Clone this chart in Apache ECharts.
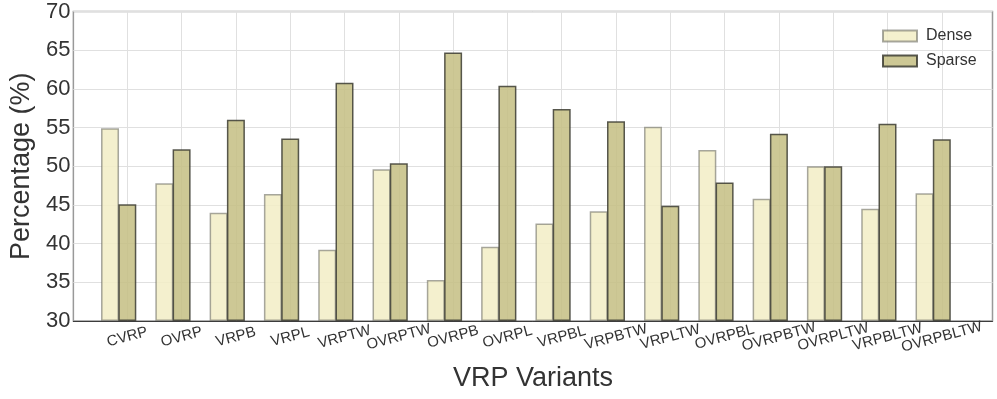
<!DOCTYPE html>
<html>
<head>
<meta charset="utf-8">
<script src="https://cdn.jsdelivr.net/npm/echarts@6/dist/echarts.min.js"></script>
<style>
  html, body { margin: 0; padding: 0; background: #fff; }
  #main { width: 997px; height: 399px; }
</style>
</head>
<body>
<div id="main"></div>
<script>
// VRP 变体数据
var variants = ['CVRP', 'OVRP', 'VRPB', 'VRPL', 'VRPTW', 'OVRPTW', 'OVRPB', 'OVRPL',
    'VRPBL', 'VRPBTW', 'VRPLTW', 'OVRPBL', 'OVRPBTW', 'OVRPLTW', 'VRPBLTW', 'OVRPBLTW'];
var dense = [54.9, 47.8, 44.0, 46.4, 39.2, 49.6, 35.3, 39.6, 42.6, 44.2, 55.1, 52.1, 45.8, 50.0, 44.5, 46.5];
var sparse = [45.1, 52.2, 56.0, 53.6, 60.8, 50.4, 64.7, 60.4, 57.4, 55.8, 44.9, 47.9, 54.2, 50.0, 55.5, 53.5];
var yTicks = [30, 35, 40, 45, 50, 55, 60, 65, 70];

var font = 'Liberation Sans, Arial, sans-serif';
var myChart = echarts.init(document.getElementById('main'));

var option = {
    animation: false,
    textStyle: { fontFamily: font },
    grid: [
        // 外框 + 横向网格
        { left: 58.5, right: 4.5, top: 11.5, bottom: 78, show: true,
          borderColor: '#999', borderWidth: 1.5, backgroundColor: 'transparent' },
        // 类目轴 + 柱子
        { left: 127.3, width: 814.5, top: 11.5, bottom: 78 }
    ],
    legend: {
        data: ['Dense', 'Sparse'],
        orient: 'vertical',
        left: 877, top: 23,
        icon: 'rect',
        itemWidth: 34, itemHeight: 11, itemGap: 9,
        textStyle: { fontSize: 16, color: '#333', fontFamily: font, padding: [0, 0, 0, 4] }
    },
    xAxis: [
        { gridIndex: 0, type: 'value', min: 0, max: 1,
          name: 'VRP Variants', nameLocation: 'middle', nameGap: 44,
          nameTextStyle: { fontSize: 27, color: '#333', fontFamily: font },
          axisLine: { show: true, lineStyle: { color: '#3c3c3c', width: 1 } },
          axisTick: { show: false }, axisLabel: { show: false }, splitLine: { show: false } },
        { gridIndex: 1, type: 'category', data: variants, boundaryGap: false,
          axisLine: { show: false }, axisTick: { show: false },
          axisLabel: { interval: 0, rotate: 15, align: 'center', verticalAlign: 'middle',
                       margin: 16, fontSize: 15, color: '#333', fontFamily: font, hideOverlap: false },
          splitLine: { show: true, lineStyle: { color: '#e0e0e0', width: 1 } } }
    ],
    yAxis: [
        { gridIndex: 0, type: 'value', min: yTicks[0], max: yTicks[yTicks.length - 1], interval: 5,
          name: 'Percentage (%)', nameLocation: 'middle', nameGap: 28.5,
          nameTextStyle: { fontSize: 27, color: '#333', fontFamily: font },
          axisLine: { show: false }, axisTick: { show: false },
          axisLabel: { fontSize: 22, color: '#333', margin: 3, fontFamily: font },
          splitLine: { show: true, lineStyle: { color: '#e0e0e0', width: 1 } } },
        { gridIndex: 1, type: 'value', min: yTicks[0], max: yTicks[yTicks.length - 1], interval: 5,
          startValue: 30, show: false, splitLine: { show: false } }
    ],
    series: [
        { name: 'Dense', type: 'bar', xAxisIndex: 1, yAxisIndex: 1, data: dense,
          barWidth: 18, barGap: '-4%', clip: false,
          itemStyle: { color: 'rgba(242,237,198,0.85)', borderColor: 'rgba(110,110,100,0.6)', borderWidth: 1.5 } },
        { name: 'Sparse', type: 'bar', xAxisIndex: 1, yAxisIndex: 1, data: sparse,
          barWidth: 18, barGap: '-4%', clip: false,
          itemStyle: { color: 'rgba(196,190,130,0.85)', borderColor: 'rgba(60,60,50,0.85)', borderWidth: 1.5 } },
        // 占位系列, 让 Sparse 柱落在刻度上
        { name: 'pad', type: 'bar', xAxisIndex: 1, yAxisIndex: 1,
          data: variants.map(function () { return '-'; }),
          barWidth: 18, barGap: '-4%', clip: false }
    ]
};

myChart.setOption(option);
</script>
</body>
</html>
